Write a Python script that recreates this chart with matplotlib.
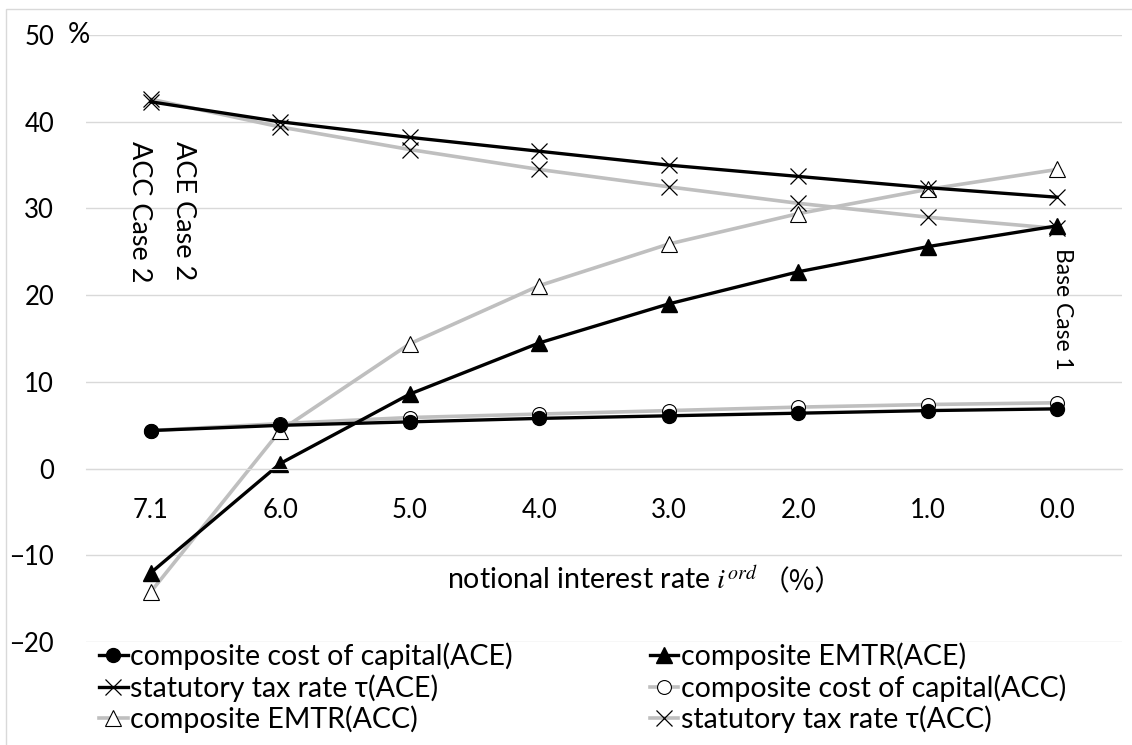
import numpy as np
import matplotlib.pyplot as plt
from matplotlib.patches import Rectangle

plt.rcParams['font.family'] = ['Lato', 'Noto Sans CJK JP', 'DejaVu Sans']
plt.rcParams['mathtext.fontset'] = 'stix'

# notional interest rate categories (%)
rates = ['7.1', '6.0', '5.0', '4.0', '3.0', '2.0', '1.0', '0.0']

cc_ace = [4.4, 5.0, 5.4, 5.8, 6.1, 6.4, 6.7, 6.9]
emtr_ace = [-12.0, 0.6, 8.6, 14.5, 19.0, 22.7, 25.6, 28.0]
tax_ace = [42.3, 40.0, 38.2, 36.6, 35.0, 33.7, 32.4, 31.3]
cc_acc = [4.4, 5.2, 5.9, 6.3, 6.7, 7.1, 7.4, 7.6]
emtr_acc = [-14.2, 4.4, 14.4, 21.1, 25.9, 29.4, 32.2, 34.5]
tax_acc = [42.6, 39.4, 36.8, 34.5, 32.5, 30.6, 29.0, 27.7]

GRAY = '#BFBFBF'
GRID = '#D9D9D9'

fig = plt.figure(figsize=(11.32, 7.45), dpi=100)
ax = fig.add_axes([0.076, 0.138, 0.915, 0.815])

x = np.arange(len(rates))

l_cc_acc, = ax.plot(x, cc_acc, color=GRAY, lw=2.6, marker='o', ms=10,
                    mfc='white', mec='black', mew=0.8,
                    label='composite cost of capital(ACC)')
l_emtr_acc, = ax.plot(x, emtr_acc, color=GRAY, lw=2.6, marker='^', ms=11,
                      mfc='white', mec='black', mew=0.8,
                      label='composite EMTR(ACC)')
l_tax_acc, = ax.plot(x, tax_acc, color=GRAY, lw=2.6, marker='x', ms=11,
                     mec='black', mew=0.9,
                     label='statutory tax rate τ(ACC)')
l_cc_ace, = ax.plot(x, cc_ace, color='black', lw=2.4, marker='o', ms=10,
                    mfc='black', mec='black',
                    label='composite cost of capital(ACE)')
l_emtr_ace, = ax.plot(x, emtr_ace, color='black', lw=2.4, marker='^', ms=11,
                      mfc='black', mec='black',
                      label='composite EMTR(ACE)')
l_tax_ace, = ax.plot(x, tax_ace, color='black', lw=2.4, marker='x', ms=11,
                     mec='black', mew=0.9,
                     label='statutory tax rate τ(ACE)')

ax.set_xlim(-0.5, 7.5)
ax.set_ylim(-20, 50)
ax.set_yticks(np.arange(-20, 51, 10))
ax.set_xticks(x)
ax.set_xticklabels(rates)
ax.grid(axis='y', color=GRID, lw=1)
ax.set_axisbelow(True)
for s in ['top', 'right', 'left']:
    ax.spines[s].set_visible(False)
ax.spines['bottom'].set_position(('data', 0))
ax.spines['bottom'].set_color(GRID)
ax.tick_params(axis='y', length=0, pad=23, labelsize=18.5)
ax.tick_params(axis='x', length=0, pad=21, labelsize=18.5)
ax.text(-0.018, 50, '%', transform=ax.get_yaxis_transform(), ha='left',
        va='center', fontsize=20)

# axis title: mathtext part and full-width brackets drawn separately
ax.text(0.649, 0.102, 'notional interest rate $i^{ord}$',
        transform=ax.transAxes, ha='right', va='center', fontsize=20.5)
ax.text(0.652, 0.098, '（%）', transform=ax.transAxes, ha='left',
        va='center', fontsize=20, family=['Noto Sans CJK JP'])

ax.text(0.25, 37.8, 'ACE Case 2', rotation=-90, ha='center', va='top',
        fontsize=19.5)
ax.text(-0.085, 37.8, 'ACC Case 2', rotation=-90, ha='center', va='top',
        fontsize=19.5)
ax.text(7.04, 25.4, 'Base Case 1', rotation=-90, ha='center', va='top',
        fontsize=16.5)

handles = [l_cc_ace, l_tax_ace, l_emtr_acc, l_emtr_ace, l_cc_acc, l_tax_acc]
fig.legend(handles=handles, labels=[h.get_label() for h in handles],
           ncol=2, loc='upper left', bbox_to_anchor=(0.085, 0.142),
           frameon=False, fontsize=20.5, handlelength=1.0, handletextpad=0.1,
           columnspacing=4.8, labelspacing=0.15, borderaxespad=0,
           borderpad=0.1)

fig.patches.append(Rectangle((6 / 1132, -0.1), 1.2, (745 - 9) / 745 + 0.1,
                             transform=fig.transFigure, fill=False,
                             ec=GRID, lw=1))

fig.savefig('out.png', dpi=100)
